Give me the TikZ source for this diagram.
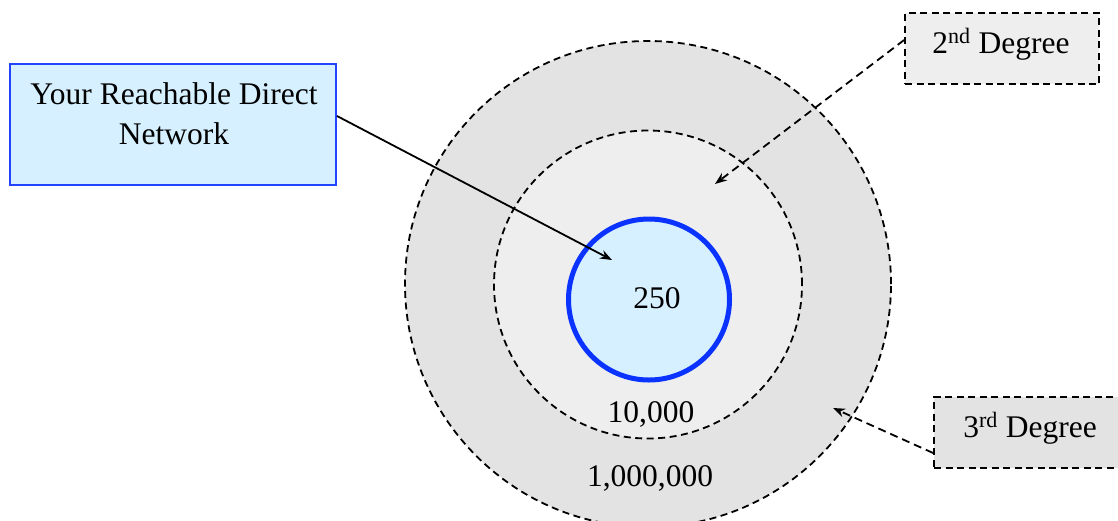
\documentclass[tikz,border=0pt]{standalone}
\usepackage{fontspec}
\setmainfont{Liberation Serif}
\usetikzlibrary{arrows.meta}
\definecolor{ringthree}{HTML}{E3E3E3}
\definecolor{ringtwo}{HTML}{EEEEEE}
\definecolor{corefill}{HTML}{D6F0FF}
\definecolor{coreblue}{HTML}{0A33FF}
\definecolor{boxblue}{HTML}{2244FF}
\tikzset{
  txt/.style={font=\fontsize{31.5}{40}\selectfont, inner sep=0pt},
  ring/.style={circle, draw=black, line width=1.8pt, dash pattern=on 7pt off 4.5pt, inner sep=0pt},
  tagbox/.style={rectangle, draw=black, line width=1.8pt, dash pattern=on 7pt off 4.5pt, inner sep=0pt},
  pointer/.style={-{Stealth[length=12pt,width=9pt]}, line width=1.8pt},
  dpointer/.style={pointer, dash pattern=on 8pt off 5pt},
}
\begin{document}
\begin{tikzpicture}[x=1pt, y=-1pt]
\useasboundingbox (0,0) rectangle (1118,520);
% concentric reach circles
\node[ring, fill=ringthree, minimum size=486pt] (third) at (648,284) {};
\node[ring, fill=ringtwo, minimum size=308pt] (second) at (648,284.5) {};
\node[circle, draw=coreblue, fill=corefill, line width=5pt, minimum size=161pt, inner sep=0pt] (core) at (649,299.5) {};
% numbers
\node[txt] (n250) at (657,298) {250};
\node[txt, anchor=base] (n10k) at (651,422) {10,000};
\node[txt, anchor=base] (n1m) at (650,486) {1,000,000};
% direct network box
\node[rectangle, draw=boxblue, fill=corefill, line width=2pt, minimum width=326pt, minimum height=121pt, inner sep=0pt] (reach) at (173,124.5) {};
\node[txt, align=center] (reachtext) at (174,114) {Your Reachable Direct\\Network};
% degree tags
\node[tagbox, fill=ringtwo, minimum width=194pt, minimum height=71pt] (deg2) at (1002,48.5) {};
\node[txt, anchor=base] (deg2text) at (1001,53) {2\textsuperscript{nd} Degree};
\node[tagbox, fill=ringthree, minimum width=192pt, minimum height=71pt] (deg3) at (1030,432.5) {};
\node[txt, anchor=base] (deg3text) at (1030,437) {3\textsuperscript{rd} Degree};
% arrow targets
\coordinate (coretip) at (612,260);
\coordinate (twotip) at (715,184);
\coordinate (threetip) at (833,408);
% arrows
\draw[pointer] (reach.east |- 0,116) -- (coretip);
\draw[dpointer] (deg2.west |- 0,40) -- (twotip);
\draw[dpointer] (deg3.west |- 0,453) -- (threetip);
\end{tikzpicture}
\end{document}
